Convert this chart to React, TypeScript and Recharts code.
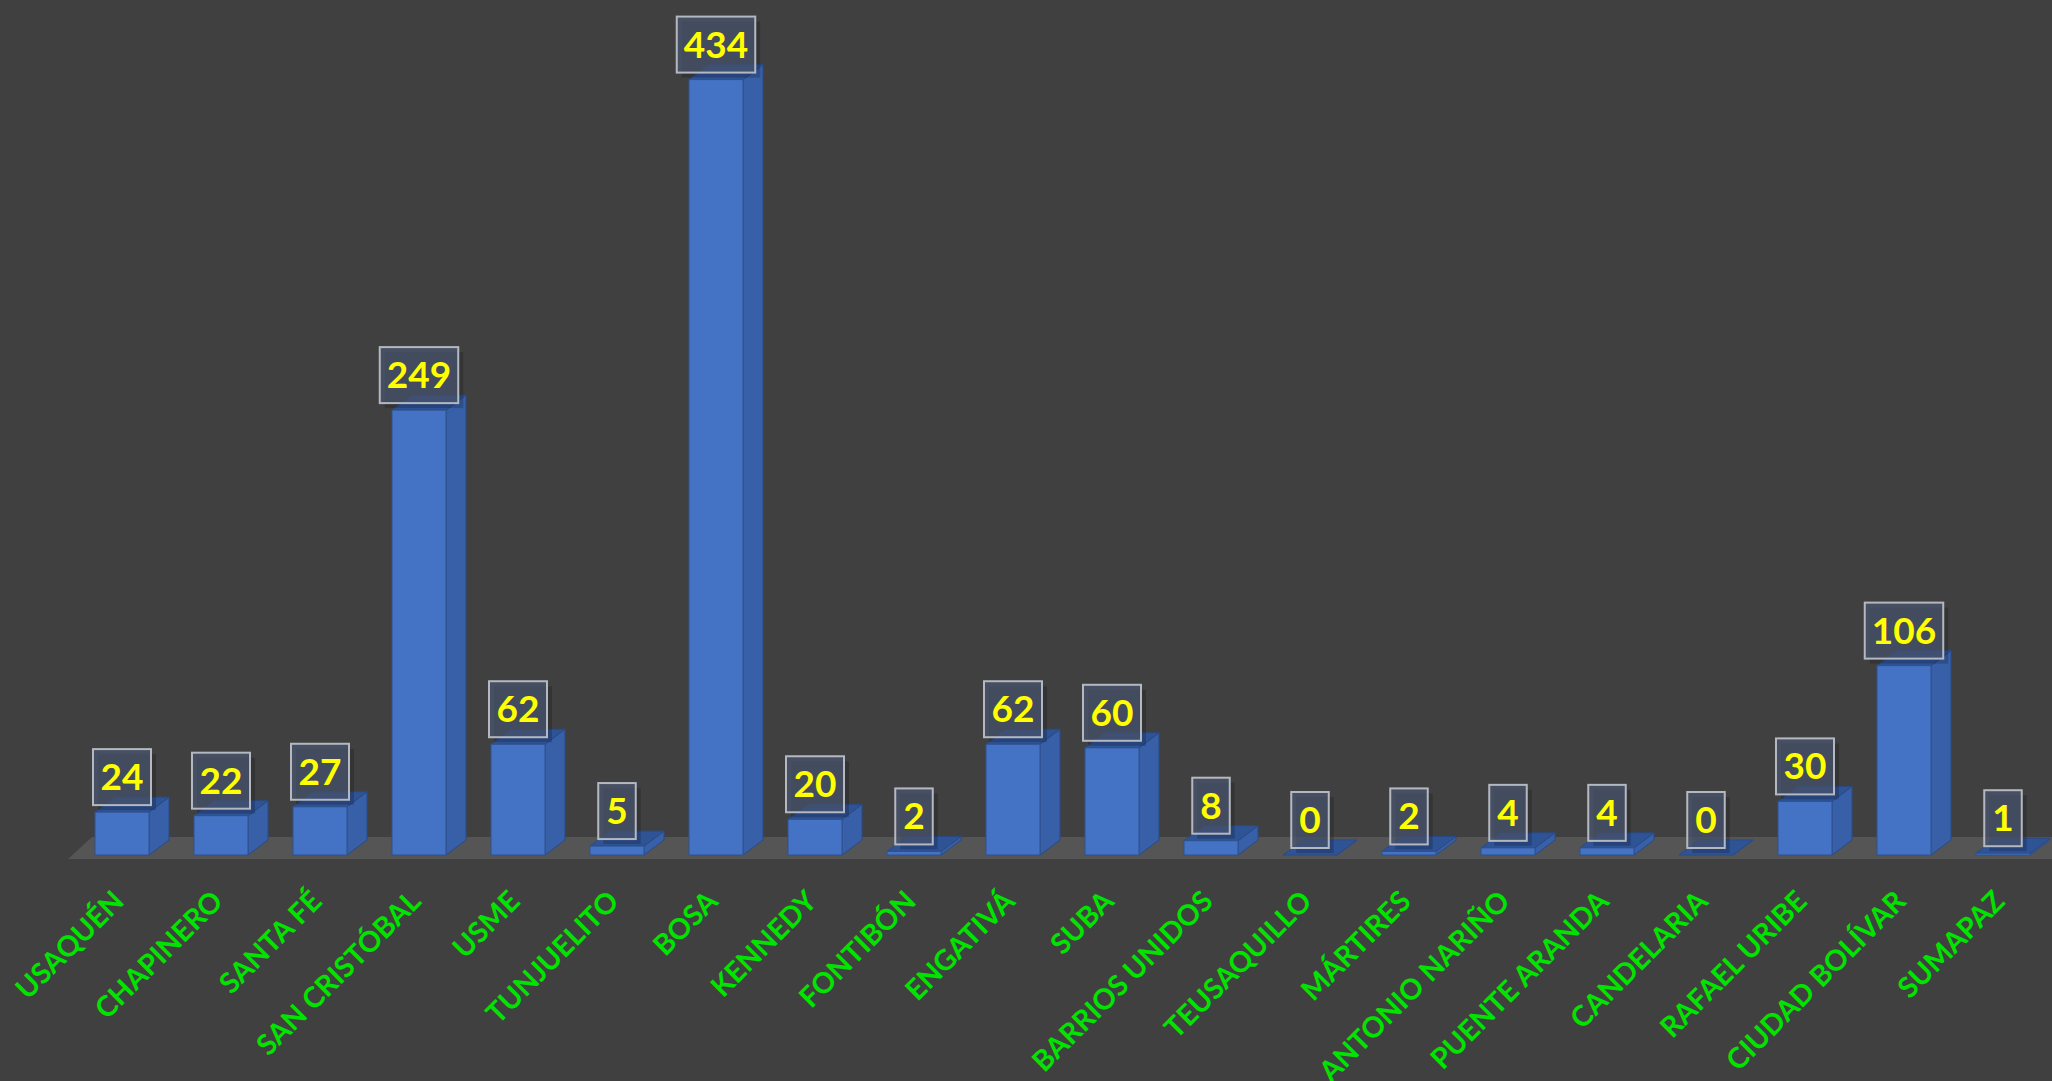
import { BarChart, Bar, XAxis, YAxis, LabelList, ReferenceArea } from 'recharts';

const localidades = [
  'USAQUÉN', 'CHAPINERO', 'SANTA FÉ', 'SAN CRISTÓBAL', 'USME', 'TUNJUELITO', 'BOSA',
  'KENNEDY', 'FONTIBÓN', 'ENGATIVÁ', 'SUBA', 'BARRIOS UNIDOS', 'TEUSAQUILLO', 'MÁRTIRES',
  'ANTONIO NARIÑO', 'PUENTE ARANDA', 'CANDELARIA', 'RAFAEL URIBE', 'CIUDAD BOLÍVAR', 'SUMAPAZ',
];
const casos = [24, 22, 27, 249, 62, 5, 434, 20, 2, 62, 60, 8, 0, 2, 4, 4, 0, 30, 106, 1];

const data = localidades.map((name, i) => ({ name, value: casos[i] }));

const DX = 20;
const DY = 15;

const Bar3D = (props: any) => {
  const { x, y, width, height } = props;
  const h = Math.max(height, 0);
  return (
    <g>
      <polygon
        points={`${x + width},${y} ${x + width + DX},${y - DY} ${x + width + DX},${y + h - DY} ${x + width},${y + h}`}
        fill="#3760a8"
        stroke="#2a4a85"
        strokeWidth={1}
      />
      <polygon
        points={`${x},${y} ${x + DX},${y - DY} ${x + width + DX},${y - DY} ${x + width},${y}`}
        fill="#2f5496"
        stroke="#2a4a85"
        strokeWidth={1}
      />
      {h > 0 && <rect x={x} y={y} width={width} height={h} fill="#4472c4" stroke="#2f528f" strokeWidth={1} />}
    </g>
  );
};

const ValueBox = (props: any) => {
  const { x, y, width, value } = props;
  const txt = String(value);
  const w = txt.length * 20.5 + 17;
  const bh = 56;
  const cx = x + width / 2;
  const bottom = y - 7;
  return (
    <g>
      <rect x={cx - w / 2 + 5} y={bottom - bh + 5} width={w} height={bh} fill="#000" opacity={0.18} />
      <rect
        x={cx - w / 2}
        y={bottom - bh}
        width={w}
        height={bh}
        fill="#4a5670"
        fillOpacity={0.7}
        stroke="#b4b8c0"
        strokeWidth={2}
      />
      <text
        x={cx}
        y={bottom - bh / 2 + 13}
        textAnchor="middle"
        fill="#ffff00"
        fontFamily="Lato, sans-serif"
        fontWeight={700}
        fontSize={37}
      >
        {txt}
      </text>
    </g>
  );
};

const Floor = (props: any) => {
  const { x, y, width, height } = props;
  const b = y + height;
  return (
    <polygon
      points={`${x - 4},${b + 4} ${x + 20},${b - 18} ${x + width + 60},${b - 18} ${x + width + 60},${b + 4}`}
      fill="#555555"
    />
  );
};

const LocalidadTick = (props: any) => {
  const { x, y, payload } = props;
  const px = x + 4;
  const py = y + 48;
  return (
    <text
      x={px}
      y={py}
      transform={`rotate(-45, ${px}, ${py})`}
      textAnchor="end"
      fill="#00e400"
      fontFamily="Lato, sans-serif"
      fontWeight={700}
      fontSize={28.5}
    >
      {payload.value}
    </text>
  );
};

export default function App() {
  return (
    <div style={{ position: 'absolute', left: 0, top: 0, width: 2052, height: 1081, background: '#404040' }}>
      <BarChart width={2052} height={1081} data={data} margin={{ top: 51, right: 0, left: 72, bottom: 0 }}>
        <YAxis hide width={0} domain={[0, 450]} />
        <XAxis
          dataKey="name"
          height={226}
          axisLine={false}
          tickLine={false}
          tickSize={0}
          tickMargin={0}
          interval={0}
          tick={<LocalidadTick />}
        />
        <ReferenceArea y1={0} y2={0.01} shape={<Floor />} ifOverflow="visible" />
        <Bar dataKey="value" barSize={54} shape={<Bar3D />} isAnimationActive={false}>
          <LabelList dataKey="value" content={<ValueBox />} />
        </Bar>
      </BarChart>
    </div>
  );
}
